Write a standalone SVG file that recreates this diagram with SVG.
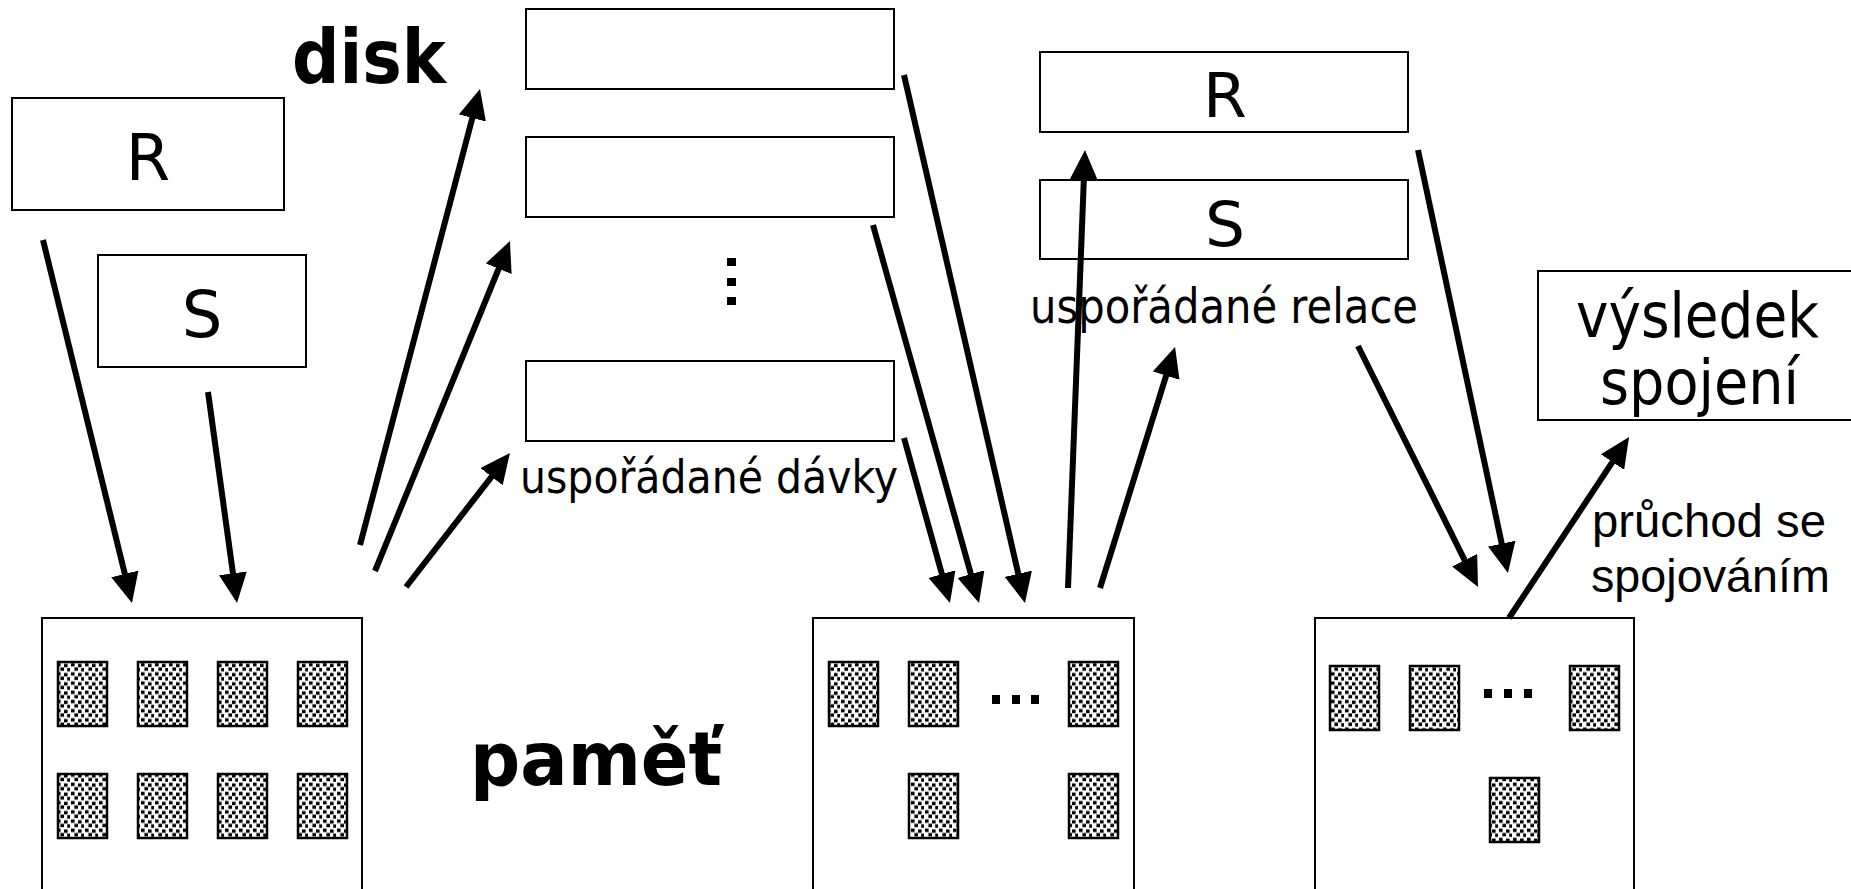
<svg xmlns="http://www.w3.org/2000/svg" width="1851" height="889" viewBox="0 0 1851 889">
<style>
.box{fill:#fff;stroke:#000;stroke-width:2}
.page{fill:url(#dots);stroke:#000;stroke-width:2.5}
.sq{fill:#000}
.t{font-family:"DejaVu Sans",Verdana,sans-serif;fill:#000}
.b{font-family:"DejaVu Sans",Verdana,sans-serif;font-weight:bold;fill:#000}
.a{font-family:"Liberation Sans",Arial,sans-serif;fill:#000}
.conn line{stroke:#000;stroke-width:6;marker-end:url(#ah)}
</style>
<defs>
<marker id="ah" markerUnits="userSpaceOnUse" markerWidth="30" markerHeight="28" viewBox="0 0 30 28" refX="10" refY="14" orient="auto">
<path d="M0,0 L30,14 L0,28 z" fill="#000"/>
</marker>
<pattern id="dots" patternUnits="userSpaceOnUse" width="14" height="9.2">
<rect width="14" height="9.2" fill="#fff"/>
<rect x="1" y="0.6" width="3.6" height="3.4" fill="#000"/>
<rect x="8" y="1.4" width="3.6" height="3.4" fill="#000"/>
<rect x="4.4" y="5" width="3.6" height="3.4" fill="#000"/>
<rect x="11.2" y="5.6" width="3.4" height="3.4" fill="#000"/>
</pattern>
</defs>

<g id="R-left"><rect class="box" x="12" y="98" width="272" height="112"/><text class="t" x="148" y="180" font-size="64" text-anchor="middle">R</text></g>
<g id="S-left"><rect class="box" x="98" y="255" width="208" height="112"/><text class="t" x="202" y="337" font-size="64" text-anchor="middle">S</text></g>

<g id="disk-label"><text class="b" x="292" y="83" font-size="74" textLength="154" lengthAdjust="spacingAndGlyphs">disk</text></g>

<g id="batch1"><rect class="box" x="526" y="9" width="368" height="80"/></g>
<g id="batch2"><rect class="box" x="526" y="137" width="368" height="80"/></g>
<g id="batch-dots"><rect class="sq" x="727" y="258" width="9" height="8"/><rect class="sq" x="727" y="278" width="9" height="8"/><rect class="sq" x="727" y="297" width="9" height="8"/></g>
<g id="batch3"><rect class="box" x="526" y="361" width="368" height="80"/></g>
<g id="batch-label"><text class="t" x="520" y="493" font-size="46" textLength="378" lengthAdjust="spacingAndGlyphs">uspořádané dávky</text></g>

<g id="R-right"><rect class="box" x="1040" y="52" width="368" height="80"/><text class="t" x="1225" y="117" font-size="63" text-anchor="middle">R</text></g>
<g id="S-right"><rect class="box" x="1040" y="180" width="368" height="79"/><text class="t" x="1225" y="246" font-size="63" text-anchor="middle">S</text></g>
<g id="relace-label"><text class="t" x="1030" y="323" font-size="48" textLength="388" lengthAdjust="spacingAndGlyphs">uspořádané relace</text></g>

<g id="result"><path d="M1851,271 H1538 V420 H1851" fill="#fff" stroke="#000" stroke-width="2"/>
<text class="t" x="1576" y="337" font-size="62" textLength="243" lengthAdjust="spacingAndGlyphs">výsledek</text>
<text class="t" x="1600" y="404" font-size="62" textLength="199" lengthAdjust="spacingAndGlyphs">spojení</text></g>

<g id="merge-label"><text class="a" x="1592" y="537" font-size="46" textLength="234" lengthAdjust="spacingAndGlyphs">průchod se</text>
<text class="a" x="1591" y="592" font-size="46" textLength="239" lengthAdjust="spacingAndGlyphs">spojováním</text></g>

<g id="memory1"><rect class="box" x="42" y="618" width="320" height="290"/>
<rect class="page" x="58" y="662" width="49" height="64"/><rect class="page" x="138" y="662" width="49" height="64"/><rect class="page" x="218" y="662" width="49" height="64"/><rect class="page" x="298" y="662" width="49" height="64"/>
<rect class="page" x="58" y="774" width="49" height="64"/><rect class="page" x="138" y="774" width="49" height="64"/><rect class="page" x="218" y="774" width="49" height="64"/><rect class="page" x="298" y="774" width="49" height="64"/></g>

<g id="memory-label"><text class="b" x="470" y="785" font-size="74" textLength="252" lengthAdjust="spacingAndGlyphs">paměť</text></g>

<g id="memory2"><rect class="box" x="813" y="618" width="321" height="290"/>
<rect class="page" x="829" y="662" width="49" height="64"/><rect class="page" x="909" y="662" width="49" height="64"/><rect class="page" x="1069" y="662" width="49" height="64"/>
<rect class="sq" x="992" y="695" width="8" height="9"/><rect class="sq" x="1012" y="695" width="8" height="9"/><rect class="sq" x="1031" y="695" width="8" height="9"/>
<rect class="page" x="909" y="774" width="49" height="64"/><rect class="page" x="1069" y="774" width="49" height="64"/></g>

<g id="memory3"><rect class="box" x="1315" y="618" width="319" height="290"/>
<rect class="page" x="1330" y="666" width="49" height="64"/><rect class="page" x="1410" y="666" width="49" height="64"/><rect class="page" x="1570" y="666" width="49" height="64"/>
<rect class="sq" x="1484" y="689" width="8" height="9"/><rect class="sq" x="1504" y="689" width="8" height="9"/><rect class="sq" x="1524" y="689" width="8" height="9"/>
<rect class="page" x="1490" y="778" width="49" height="64"/></g>

<g id="connectors" class="conn">
<line x1="43" y1="240" x2="127.2" y2="583.6"/>
<line x1="208" y1="392" x2="234.3" y2="583.2"/>
<line x1="360" y1="545" x2="474.9" y2="108.3"/>
<line x1="375" y1="571" x2="502.4" y2="259.5"/>
<line x1="406" y1="587" x2="497.7" y2="468.8"/>
<line x1="904" y1="438" x2="944.6" y2="583.7"/>
<line x1="873" y1="225" x2="973.6" y2="583.7"/>
<line x1="904" y1="75" x2="1020.5" y2="583.5"/>
<line x1="1068" y1="588" x2="1084.2" y2="170"/>
<line x1="1100" y1="588" x2="1169.1" y2="366.1"/>
<line x1="1358" y1="346" x2="1469.1" y2="569.1"/>
<line x1="1418" y1="150" x2="1503.8" y2="553.4"/>
<line x1="1509" y1="618" x2="1618" y2="453.7"/>
</g>
</svg>
